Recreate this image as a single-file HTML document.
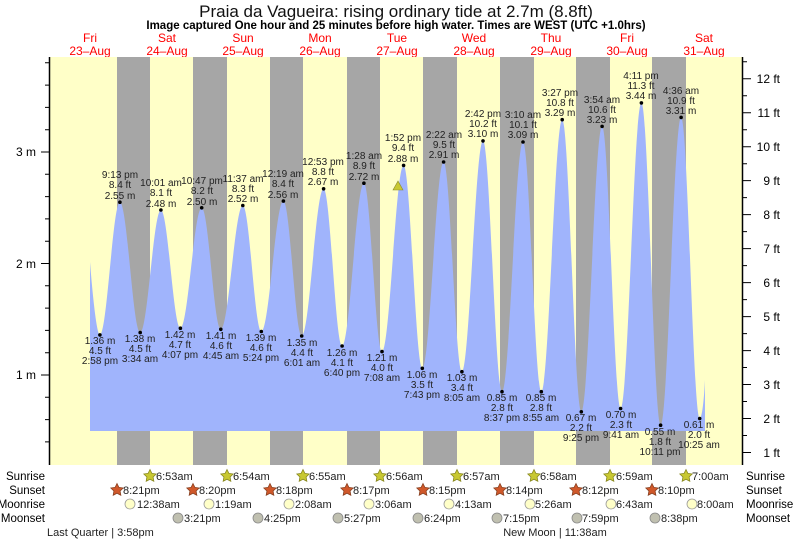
<!DOCTYPE html>
<html><head><meta charset="utf-8"><style>
body{margin:0;background:#fff;}
svg{display:block;font-family:"Liberation Sans",sans-serif;}
.t{font-size:10px;fill:#222;text-anchor:middle;}
.d{font-size:12px;fill:#f00;text-anchor:middle;}
.ax{font-size:12px;fill:#000;}
.r{font-size:11.5px;fill:#000;}
.s{font-size:11px;fill:#222;}
</style></head><body>
<svg width="793" height="539" viewBox="0 0 793 539" xmlns="http://www.w3.org/2000/svg" xmlns:xlink="http://www.w3.org/1999/xlink">
<defs>
<polygon id="st" points="0,-6.5 1.91,-2.63 6.18,-2.01 3.09,1 3.82,5.26 0,3.25 -3.82,5.26 -3.09,1 -6.18,-2.01 -1.91,-2.63"/>
</defs>
<rect width="793" height="539" fill="#fff"/>
<text x="396" y="17" text-anchor="middle" font-size="17" fill="#111">Praia da Vagueira: rising  ordinary tide at 2.7m (8.8ft)</text>
<text x="396" y="29" text-anchor="middle" font-size="11.5" font-weight="bold" fill="#000">Image captured One hour and 25 minutes before high water. Times are WEST (UTC +1.0hrs)</text>
<g class="d">
<text x="90" y="42">Fri</text><text x="90" y="55">23–Aug</text>
<text x="167" y="42">Sat</text><text x="167" y="55">24–Aug</text>
<text x="243" y="42">Sun</text><text x="243" y="55">25–Aug</text>
<text x="320" y="42">Mon</text><text x="320" y="55">26–Aug</text>
<text x="397" y="42">Tue</text><text x="397" y="55">27–Aug</text>
<text x="474" y="42">Wed</text><text x="474" y="55">28–Aug</text>
<text x="551" y="42">Thu</text><text x="551" y="55">29–Aug</text>
<text x="627" y="42">Fri</text><text x="627" y="55">30–Aug</text>
<text x="704" y="42">Sat</text><text x="704" y="55">31–Aug</text>
</g>
<rect x="49" y="57" width="694" height="408" fill="#ffffc8"/>
<g fill="#a6a6a6">
<rect x="117" y="57" width="33" height="408"/><rect x="193" y="57" width="34" height="408"/>
<rect x="270" y="57" width="33" height="408"/><rect x="347" y="57" width="33" height="408"/>
<rect x="423" y="57" width="34" height="408"/><rect x="500" y="57" width="34" height="408"/>
<rect x="576" y="57" width="34" height="408"/><rect x="652" y="57" width="34" height="408"/>
</g>
<path fill="#a0b4fc" d="M90,431 L90,262 C93,300 97,334.9 99.9,334.9
C107.1,334.9 112.7,202.2 119.9,202.2
C127.2,202.2 132.9,332.6 140.2,332.6
C147.7,332.6 153.4,210 160.9,210
C167.9,210 173.4,328.2 180.4,328.2
C188.1,328.2 194,207.8 201.7,207.8
C208.6,207.8 213.9,329.3 220.8,329.3
C228.7,329.3 234.9,205.5 242.8,205.5
C249.5,205.5 254.6,331.5 261.3,331.5
C269.3,331.5 275.4,201.1 283.4,201.1
C290,201.1 295.1,336 301.7,336
C309.6,336 315.7,188.8 323.6,188.8
C330.3,188.8 335.4,346 342.1,346
C349.9,346 356.1,183.2 363.9,183.2
C370.4,183.2 375.5,351.6 382,351.6
C389.8,351.6 395.8,165.4 403.6,165.4
C410.3,165.4 415.6,368.3 422.3,368.3
C430,368.3 435.9,162 443.6,162
C450.2,162 455.3,371.7 461.9,371.7
C469.5,371.7 475.4,140.9 483,140.9
C489.8,140.9 495.2,391.7 502,391.7
C509.6,391.7 515.4,142 523,142
C529.6,142 534.7,391.7 541.3,391.7
C548.8,391.7 554.7,119.7 562.2,119.7
C569.1,119.7 574.4,411.8 581.3,411.8
C588.8,411.8 594.6,126.4 602.1,126.4
C608.8,126.4 613.9,408.5 620.6,408.5
C628.1,408.5 633.9,102.9 641.4,102.9
C648.3,102.9 653.7,425.2 660.6,425.2
C668,425.2 673.7,117.4 681.1,117.4
C687.8,117.4 693,418.5 699.7,418.5
C702,418.5 704,400 705,380 L705,431 Z"/>
<polygon points="393,190 403,190 398,181" fill="#c8c832" stroke="#888830" stroke-width="0.6"/>
<g fill="#000">
<circle cx="99.9" cy="334.9" r="1.8"/><circle cx="119.9" cy="202.2" r="1.8"/><circle cx="140.2" cy="332.6" r="1.8"/>
<circle cx="160.9" cy="210" r="1.8"/><circle cx="180.4" cy="328.2" r="1.8"/><circle cx="201.7" cy="207.8" r="1.8"/>
<circle cx="220.8" cy="329.3" r="1.8"/><circle cx="242.8" cy="205.5" r="1.8"/><circle cx="261.3" cy="331.5" r="1.8"/>
<circle cx="283.4" cy="201.1" r="1.8"/><circle cx="301.7" cy="336" r="1.8"/><circle cx="323.6" cy="188.8" r="1.8"/>
<circle cx="342.1" cy="346" r="1.8"/><circle cx="363.9" cy="183.2" r="1.8"/><circle cx="382" cy="351.6" r="1.8"/>
<circle cx="403.6" cy="165.4" r="1.8"/><circle cx="422.3" cy="368.3" r="1.8"/><circle cx="443.6" cy="162" r="1.8"/>
<circle cx="461.9" cy="371.7" r="1.8"/><circle cx="483" cy="140.9" r="1.8"/><circle cx="502" cy="391.7" r="1.8"/>
<circle cx="523" cy="142" r="1.8"/><circle cx="541.3" cy="391.7" r="1.8"/><circle cx="562.2" cy="119.7" r="1.8"/>
<circle cx="581.3" cy="411.8" r="1.8"/><circle cx="602.1" cy="126.4" r="1.8"/><circle cx="620.6" cy="408.5" r="1.8"/>
<circle cx="641.4" cy="102.9" r="1.8"/><circle cx="660.6" cy="425.2" r="1.8"/><circle cx="681.1" cy="117.4" r="1.8"/>
<circle cx="699.7" cy="418.5" r="1.8"/>
</g>
<g class="t">
<text x="100" y="344">1.36 m</text><text x="100" y="354">4.5 ft</text><text x="100" y="364">2:58 pm</text>
<text x="120" y="178">9:13 pm</text><text x="120" y="188">8.4 ft</text><text x="120" y="199">2.55 m</text>
<text x="140" y="342">1.38 m</text><text x="140" y="352">4.5 ft</text><text x="140" y="362">3:34 am</text>
<text x="161" y="186">10:01 am</text><text x="161" y="196">8.1 ft</text><text x="161" y="207">2.48 m</text>
<text x="180" y="338">1.42 m</text><text x="180" y="348">4.7 ft</text><text x="180" y="358">4:07 pm</text>
<text x="202" y="184">10:47 pm</text><text x="202" y="194">8.2 ft</text><text x="202" y="205">2.50 m</text>
<text x="221" y="339">1.41 m</text><text x="221" y="349">4.6 ft</text><text x="221" y="359">4:45 am</text>
<text x="243" y="182">11:37 am</text><text x="243" y="192">8.3 ft</text><text x="243" y="202">2.52 m</text>
<text x="261" y="341">1.39 m</text><text x="261" y="351">4.6 ft</text><text x="261" y="361">5:24 pm</text>
<text x="283" y="177">12:19 am</text><text x="283" y="187">8.4 ft</text><text x="283" y="198">2.56 m</text>
<text x="302" y="346">1.35 m</text><text x="302" y="356">4.4 ft</text><text x="302" y="366">6:01 am</text>
<text x="323" y="165">12:53 pm</text><text x="323" y="175">8.8 ft</text><text x="323" y="185">2.67 m</text>
<text x="342" y="356">1.26 m</text><text x="342" y="366">4.1 ft</text><text x="342" y="376">6:40 pm</text>
<text x="364" y="159">1:28 am</text><text x="364" y="169">8.9 ft</text><text x="364" y="180">2.72 m</text>
<text x="382" y="361">1.21 m</text><text x="382" y="371">4.0 ft</text><text x="382" y="381">7:08 am</text>
<text x="403" y="141">1:52 pm</text><text x="403" y="151">9.4 ft</text><text x="403" y="162">2.88 m</text>
<text x="422" y="378">1.06 m</text><text x="422" y="388">3.5 ft</text><text x="422" y="398">7:43 pm</text>
<text x="444" y="138">2:22 am</text><text x="444" y="148">9.5 ft</text><text x="444" y="158">2.91 m</text>
<text x="462" y="381">1.03 m</text><text x="462" y="391">3.4 ft</text><text x="462" y="401">8:05 am</text>
<text x="483" y="117">2:42 pm</text><text x="483" y="127">10.2 ft</text><text x="483" y="137">3.10 m</text>
<text x="502" y="401">0.85 m</text><text x="502" y="411">2.8 ft</text><text x="502" y="421">8:37 pm</text>
<text x="523" y="118">3:10 am</text><text x="523" y="128">10.1 ft</text><text x="523" y="138">3.09 m</text>
<text x="541" y="401">0.85 m</text><text x="541" y="411">2.8 ft</text><text x="541" y="421">8:55 am</text>
<text x="560" y="96">3:27 pm</text><text x="560" y="106">10.8 ft</text><text x="560" y="116">3.29 m</text>
<text x="581" y="421">0.67 m</text><text x="581" y="431">2.2 ft</text><text x="581" y="441">9:25 pm</text>
<text x="602" y="103">3:54 am</text><text x="602" y="113">10.6 ft</text><text x="602" y="123">3.23 m</text>
<text x="621" y="418">0.70 m</text><text x="621" y="428">2.3 ft</text><text x="621" y="438">9:41 am</text>
<text x="641" y="79">4:11 pm</text><text x="641" y="89">11.3 ft</text><text x="641" y="99">3.44 m</text>
<text x="660" y="435">0.55 m</text><text x="660" y="445">1.8 ft</text><text x="660" y="455">10:11 pm</text>
<text x="681" y="94">4:36 am</text><text x="681" y="104">10.9 ft</text><text x="681" y="114">3.31 m</text>
<text x="699" y="428">0.61 m</text><text x="699" y="438">2.0 ft</text><text x="699" y="448">10:25 am</text>
</g>
<line x1="49.5" y1="57" x2="49.5" y2="465" stroke="#000" stroke-width="1.5"/>
<line x1="742.5" y1="57" x2="742.5" y2="465" stroke="#000" stroke-width="1.5"/>
<path stroke="#000" stroke-width="1" fill="none" d="
M45,441.9H49 M45,419.6H49 M45,397.3H49 M41,375H49 M45,352.7H49 M45,330.4H49 M45,308.1H49 M45,285.8H49
M41,263.5H49 M45,241.2H49 M45,218.9H49 M45,196.6H49 M45,174.3H49 M41,152H49 M45,129.7H49 M45,107.4H49 M45,85.1H49 M45,62.8H49
M743,452.5H751 M743,435.5H747 M743,418.5H751 M743,401.5H747 M743,384.5H751 M743,367.5H747 M743,350.6H751 M743,333.6H747
M743,316.6H751 M743,299.6H747 M743,282.6H751 M743,265.6H747 M743,248.6H751 M743,231.6H747 M743,214.6H751 M743,197.6H747
M743,180.6H751 M743,163.7H747 M743,146.7H751 M743,129.7H747 M743,112.7H751 M743,95.7H747 M743,78.7H751 M743,61.7H747"/>
<g class="ax" text-anchor="end">
<text x="36" y="156">3 m</text><text x="36" y="268">2 m</text><text x="36" y="379">1 m</text>
</g>
<g class="ax" text-anchor="end">
<text x="780" y="83">12 ft</text><text x="780" y="117">11 ft</text><text x="780" y="151">10 ft</text>
<text x="780" y="185">9 ft</text><text x="780" y="219">8 ft</text><text x="780" y="253">7 ft</text>
<text x="780" y="287">6 ft</text><text x="780" y="321">5 ft</text><text x="780" y="355">4 ft</text>
<text x="780" y="389">3 ft</text><text x="780" y="423">2 ft</text><text x="780" y="457">1 ft</text>
</g>
<g class="r" text-anchor="end">
<text x="45" y="480">Sunrise</text><text x="45" y="494">Sunset</text><text x="45" y="508">Moonrise</text><text x="45" y="522">Moonset</text>
</g>
<g class="r">
<text x="746" y="480">Sunrise</text><text x="746" y="494">Sunset</text><text x="746" y="508">Moonrise</text><text x="746" y="522">Moonset</text>
</g>
<g fill="#c8c832" stroke="#888820" stroke-width="0.8">
<use xlink:href="#st" href="#st" x="150" y="476"/><use xlink:href="#st" href="#st" x="227" y="476"/>
<use xlink:href="#st" href="#st" x="303" y="476"/><use xlink:href="#st" href="#st" x="380" y="476"/>
<use xlink:href="#st" href="#st" x="457" y="476"/><use xlink:href="#st" href="#st" x="534" y="476"/>
<use xlink:href="#st" href="#st" x="610" y="476"/><use xlink:href="#st" href="#st" x="686" y="476"/>
</g>
<g fill="#d0582a" stroke="#884020" stroke-width="0.8">
<use xlink:href="#st" href="#st" x="117" y="490"/><use xlink:href="#st" href="#st" x="193" y="490"/>
<use xlink:href="#st" href="#st" x="270" y="490"/><use xlink:href="#st" href="#st" x="347" y="490"/>
<use xlink:href="#st" href="#st" x="423" y="490"/><use xlink:href="#st" href="#st" x="500" y="490"/>
<use xlink:href="#st" href="#st" x="576" y="490"/><use xlink:href="#st" href="#st" x="652" y="490"/>
</g>
<g fill="#ffffc8" stroke="#999" stroke-width="0.8">
<circle cx="130" cy="504" r="5"/><circle cx="209" cy="504" r="5"/><circle cx="289" cy="504" r="5"/><circle cx="369" cy="504" r="5"/>
<circle cx="449" cy="504" r="5"/><circle cx="530" cy="504" r="5"/><circle cx="611" cy="504" r="5"/><circle cx="692" cy="504" r="5"/>
</g>
<g fill="#c0c0b0" stroke="#888" stroke-width="0.8">
<circle cx="178" cy="518" r="5"/><circle cx="258" cy="518" r="5"/><circle cx="338" cy="518" r="5"/><circle cx="418" cy="518" r="5"/>
<circle cx="497" cy="518" r="5"/><circle cx="577" cy="518" r="5"/><circle cx="655" cy="518" r="5"/>
</g>
<g class="s">
<text x="156" y="480">6:53am</text><text x="233" y="480">6:54am</text><text x="309" y="480">6:55am</text><text x="386" y="480">6:56am</text>
<text x="463" y="480">6:57am</text><text x="540" y="480">6:58am</text><text x="616" y="480">6:59am</text><text x="692" y="480">7:00am</text>
<text x="123" y="494">8:21pm</text><text x="199" y="494">8:20pm</text><text x="276" y="494">8:18pm</text><text x="353" y="494">8:17pm</text>
<text x="429" y="494">8:15pm</text><text x="506" y="494">8:14pm</text><text x="582" y="494">8:12pm</text><text x="658" y="494">8:10pm</text>
<text x="137" y="508">12:38am</text><text x="215" y="508">1:19am</text><text x="295" y="508">2:08am</text><text x="375" y="508">3:06am</text>
<text x="455" y="508">4:13am</text><text x="535" y="508">5:26am</text><text x="616" y="508">6:43am</text><text x="697" y="508">8:00am</text>
<text x="184" y="522">3:21pm</text><text x="264" y="522">4:25pm</text><text x="344" y="522">5:27pm</text><text x="424" y="522">6:24pm</text>
<text x="503" y="522">7:15pm</text><text x="582" y="522">7:59pm</text><text x="661" y="522">8:38pm</text>
<text x="47" y="536">Last Quarter | 3:58pm</text>
<text x="555" y="536" text-anchor="middle">New Moon | 11:38am</text>
</g>
</svg>
</body></html>
